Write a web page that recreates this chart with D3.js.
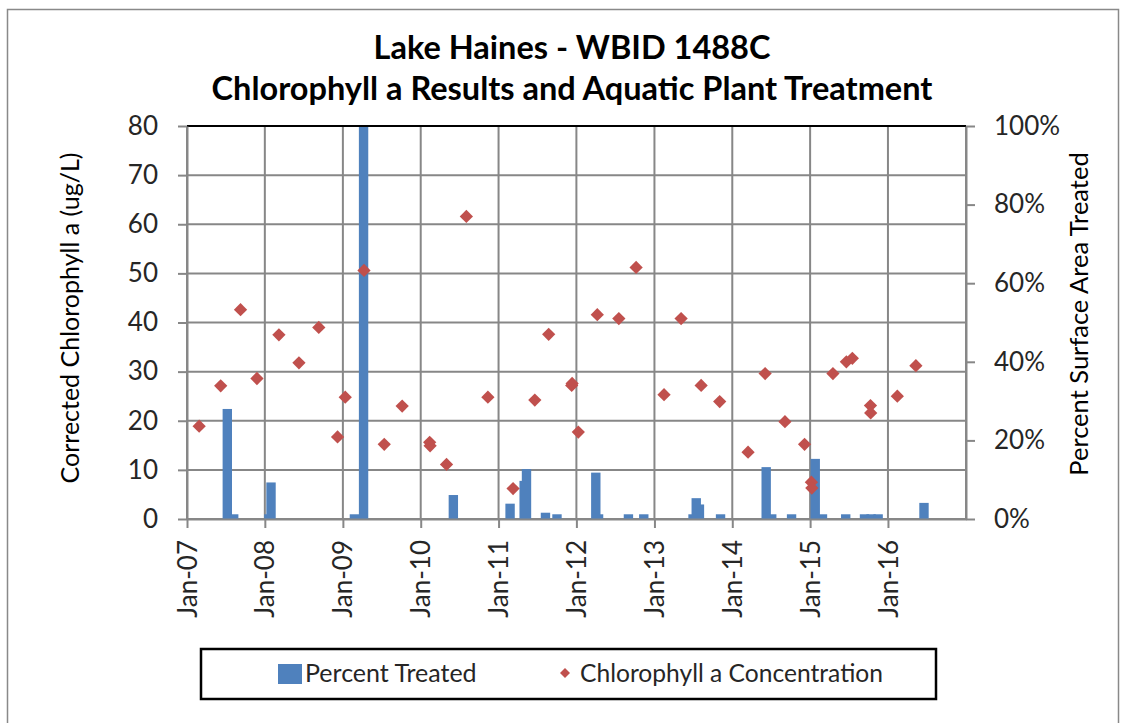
<!DOCTYPE html>
<html>
<head>
<meta charset="utf-8">
<script src="https://cdn.jsdelivr.net/npm/d3@7"></script>
<style>
  body { margin: 0; background: #fff; }
  svg text { font-family: Lato, "Open Sans", sans-serif; fill: #000; }
  .tick text { fill: #262626; }
</style>
</head>
<body>
<svg id="chart" width="1130" height="723"></svg>
<script>
// Percent of surface area treated (right axis)
const treatDates = ["2007-07-09", "2007-08-08", "2008-01-20", "2008-01-30", "2009-02-24", "2009-04-08",
    "2010-06-03", "2011-02-24", "2011-05-01", "2011-05-12", "2011-08-09", "2011-10-02",
    "2012-04-14", "2012-04-01", "2012-09-01", "2012-11-12", "2013-07-01", "2013-07-31", "2013-07-16",
    "2013-11-07", "2014-07-05", "2014-06-09", "2014-10-06", "2015-02-28", "2015-01-25", "2015-06-17",
    "2015-09-13", "2015-10-14", "2015-11-16", "2016-06-18"];
const treatPct = [28, 1.2, 1.2, 9.3, 1.2, 100,
    6.1, 3.9, 9.7, 12.7, 1.6, 1.2,
    1.2, 11.8, 1.2, 1.2, 1.2, 3.7, 5.3,
    1.2, 1.2, 13.2, 1.2, 1.2, 15.3, 1.2,
    1.2, 1.2, 1.2, 4.1];

// Corrected chlorophyll a, ug/L (left axis)
const chlDates = ["2007-02-27", "2007-06-08", "2007-09-09", "2007-11-25", "2008-03-07", "2008-06-09",
    "2008-09-10", "2008-12-07", "2009-01-12", "2009-04-10", "2009-07-14", "2009-10-06",
    "2010-02-12", "2010-02-14", "2010-05-02", "2010-08-03", "2010-11-12", "2011-03-10",
    "2011-06-20", "2011-08-24", "2011-12-10", "2011-12-12", "2012-01-10", "2012-04-08",
    "2012-07-18", "2012-10-07", "2013-02-15", "2013-05-06", "2013-08-08", "2013-11-03",
    "2014-03-16", "2014-06-04", "2014-09-05", "2014-12-06", "2015-01-07", "2015-01-09",
    "2015-04-18", "2015-06-20", "2015-07-18", "2015-10-11", "2015-10-12", "2016-02-14", "2016-05-11"];
const chlValues = [18.9, 27.1, 42.6, 28.6, 37.5, 31.8,
    39.0, 16.7, 24.8, 50.6, 15.2, 23.0,
    15.6, 14.9, 11.1, 61.6, 24.8, 6.2,
    24.2, 37.6, 27.2, 27.6, 17.7, 41.6,
    40.8, 51.2, 25.3, 40.8, 27.2, 23.9,
    13.6, 29.6, 19.8, 15.2, 7.5, 6.3,
    29.6, 32.0, 32.7, 23.1, 21.6, 25.0, 31.2];

const leftTicks = [0, 10, 20, 30, 40, 50, 60, 70, 80];
const rightTicks = [0, 0.2, 0.4, 0.6, 0.8, 1.0];
const titleLines = ["Lake Haines - WBID 1488C", "Chlorophyll a Results and Aquatic Plant Treatment"];

const parse = d3.timeParse("%Y-%m-%d");
const blue = "#4F81BD", red = "#C0504D", grid = "#878787";

const svg = d3.select("#chart");
const margin = { top: 126, left: 187, right: 164, bottom: 204 };
const width = 1130 - margin.left - margin.right,
    height = 723 - margin.top - margin.bottom;

// outer chart border
svg.append("rect")
    .attr("x", 7.5).attr("y", 9.5)
    .attr("width", 1111).attr("height", 730)
    .attr("fill", "#fff").attr("stroke", "#898989").attr("stroke-width", 1.5);

const g = svg.append("g").attr("transform", "translate(" + margin.left + "," + margin.top + ")");

const x = d3.scaleTime()
    .domain([new Date(2007, 0, 1), new Date(2017, 0, 1)])
    .range([0, width]);
const yLeft = d3.scaleLinear().domain([0, 80]).range([height, 0]);
const yRight = d3.scaleLinear().domain([0, 1]).range([height, 0]);

const years = d3.timeYear.range(new Date(2007, 0, 1), new Date(2017, 0, 2));

// gridlines
g.append("g").selectAll("line")
    .data(leftTicks)
    .enter().append("line")
    .attr("x1", 0).attr("x2", width)
    .attr("y1", d => yLeft(d)).attr("y2", d => yLeft(d))
    .attr("stroke", grid).attr("stroke-width", 2);
g.append("g").selectAll("line")
    .data(years)
    .enter().append("line")
    .attr("x1", d => x(d)).attr("x2", d => x(d))
    .attr("y1", 0).attr("y2", height)
    .attr("stroke", grid).attr("stroke-width", 2);

// bars
g.append("defs").append("clipPath").attr("id", "plot-clip")
    .append("rect").attr("width", width).attr("height", height);

const treat = treatDates.map((d, i) => ({ date: parse(d), value: treatPct[i] / 100 }));
const halfBar = 22;
g.append("g").attr("clip-path", "url(#plot-clip)")
    .selectAll("rect")
    .data(treat)
    .enter().append("rect")
    .attr("x", d => x(d3.timeDay.offset(d.date, -halfBar)))
    .attr("width", d => x(d3.timeDay.offset(d.date, halfBar)) - x(d3.timeDay.offset(d.date, -halfBar)))
    .attr("y", d => yRight(d.value))
    .attr("height", d => height - yRight(d.value))
    .attr("fill", blue);

// top border line
g.append("line")
    .attr("x1", 0).attr("x2", width).attr("y1", 0).attr("y2", 0)
    .attr("stroke", "#000").attr("stroke-width", 2);

// diamonds
const chl = chlDates.map((d, i) => ({ date: parse(d), value: chlValues[i] }));
const diamond = d3.symbol().type(d3.symbolSquare).size(88);
g.append("g").selectAll("path")
    .data(chl)
    .enter().append("path")
    .attr("d", diamond)
    .attr("transform", d => "translate(" + x(d.date) + "," + yLeft(d.value) + ") rotate(45)")
    .attr("fill", red);

// axes
function styleAxis(sel) {
    sel.select(".domain").attr("stroke", grid).attr("stroke-width", 2);
    sel.selectAll(".tick line").attr("stroke", grid).attr("stroke-width", 2);
    sel.selectAll(".tick text").style("font-size", "26px");
}

g.append("g")
    .call(d3.axisLeft(yLeft).tickValues(leftTicks).tickSize(9).tickPadding(20).tickSizeOuter(0))
    .call(styleAxis);

g.append("g")
    .attr("transform", "translate(" + width + ",0)")
    .call(d3.axisRight(yRight).tickValues(rightTicks).tickFormat(d3.format(".0%")).tickSize(9).tickPadding(19).tickSizeOuter(0))
    .call(styleAxis);

g.append("g")
    .attr("transform", "translate(0," + height + ")")
    .call(d3.axisBottom(x).tickValues(years.slice(0, 10)).tickFormat(d3.timeFormat("%b-%y")).tickSize(9).tickSizeOuter(0))
    .call(styleAxis)
    .selectAll(".tick text")
    .attr("transform", "rotate(-90)")
    .attr("text-anchor", "end")
    .attr("x", -21).attr("y", 0).attr("dy", "0.35em");

// axis titles
svg.append("text")
    .attr("transform", "translate(79,318) rotate(-90)")
    .attr("text-anchor", "middle")
    .style("font-size", "25px")
    .text("Corrected Chlorophyll a (ug/L)");
svg.append("text")
    .attr("transform", "translate(1088,314) rotate(-90)")
    .attr("text-anchor", "middle")
    .style("font-size", "25.5px")
    .text("Percent Surface Area Treated");

// chart title
svg.append("g").selectAll("text")
    .data(titleLines)
    .enter().append("text")
    .attr("x", 572)
    .attr("y", (d, i) => 59 + i * 41)
    .attr("text-anchor", "middle")
    .style("font-size", "32.5px")
    .style("font-weight", "bold")
    .text(d => d);

// legend
const legend = svg.append("g");
legend.append("rect")
    .attr("x", 201).attr("y", 649).attr("width", 735).attr("height", 50)
    .attr("fill", "#fff").attr("stroke", "#000").attr("stroke-width", 2.5);
legend.append("rect")
    .attr("x", 278).attr("y", 664).attr("width", 24).attr("height", 20)
    .attr("fill", blue);
legend.append("text")
    .attr("x", 305).attr("y", 682)
    .style("font-size", "25px").style("fill", "#262626")
    .text("Percent Treated");
legend.append("path")
    .attr("d", d3.symbol().type(d3.symbolSquare).size(50))
    .attr("transform", "translate(565,673) rotate(45)")
    .attr("fill", red);
legend.append("text")
    .attr("x", 580).attr("y", 682)
    .style("font-size", "24.6px").style("fill", "#262626")
    .text("Chlorophyll a Concentration");
</script>
</body>
</html>
